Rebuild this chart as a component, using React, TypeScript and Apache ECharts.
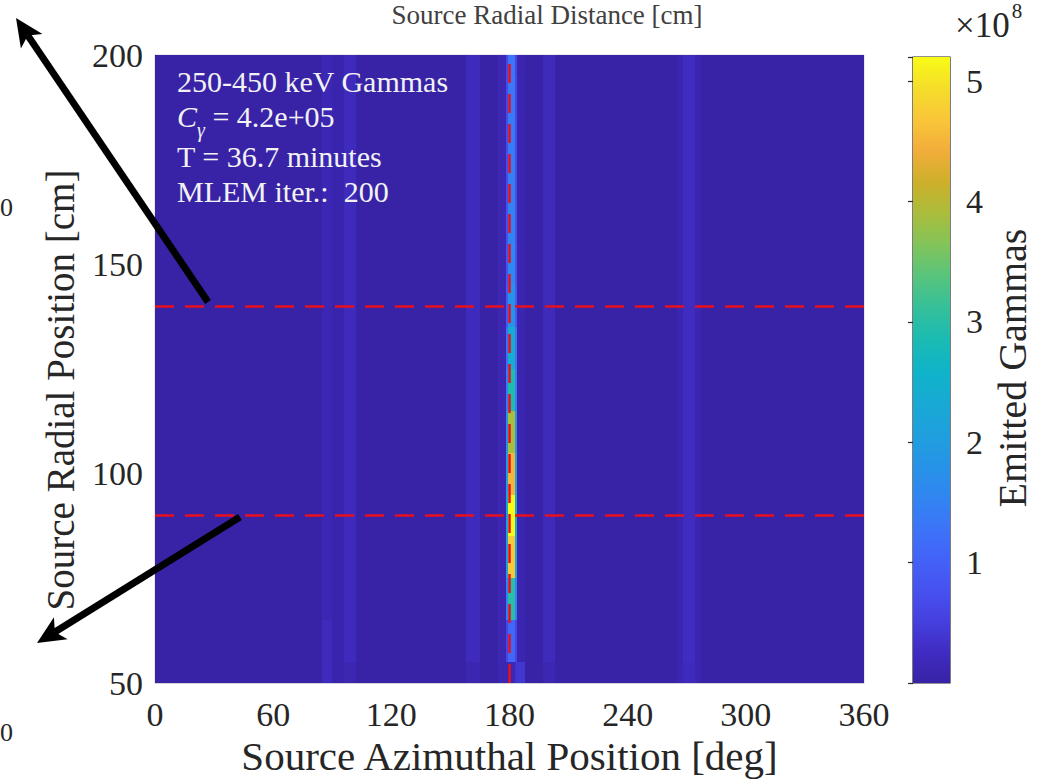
import React, { useEffect, useRef } from 'react';
import * as echarts from 'echarts';

// ---------- data ----------
const radialCenters = [50, 60, 70, 80, 90, 100, 110, 120, 130, 140, 150, 160, 170, 180, 190, 200];
const radialBinWidth = 10;
const azimuthRange = [0, 360];
const radialRange = [50, 200];
const backgroundLevel = 0.02; // ×1e8

// Emitted gammas (×1e8) per radial row (50 cm ... 200 cm) for azimuth ranges [deg]
const stripe85 = [0.22, 0.2, 0.14, 0.14, 0.14, 0.14, 0.14, 0.14, 0.14, 0.14, 0.14, 0.14, 0.14, 0.14, 0.14, 0.14];
const stripe90 = [0.07, 0.07, 0.07, 0.07, 0.07, 0.07, 0.07, 0.07, 0.07, 0.07, 0.07, 0.07, 0.07, 0.07, 0.07, 0.07];
const stripe96 = [0.12, 0.22, 0.22, 0.22, 0.22, 0.22, 0.22, 0.22, 0.22, 0.22, 0.22, 0.22, 0.22, 0.22, 0.22, 0.22];
const stripe158 = [0.1, 0.2, 0.2, 0.2, 0.2, 0.2, 0.2, 0.2, 0.2, 0.2, 0.2, 0.2, 0.2, 0.2, 0.2, 0.2];
const stripe174 = [0.1, 0.12, 0.12, 0.12, 0.12, 0.12, 0.12, 0.12, 0.12, 0.12, 0.12, 0.12, 0.12, 0.12, 0.12, 0.12];
const peakHaloLeft = [0.1, 0.6, 1.5, 2.1, 2.3, 2.1, 1.8, 1.4, 1.2, 0.9, 0.8, 0.75, 0.7, 0.7, 0.65, 0.6];
const peakCore = [0.15, 1.1, 3.0, 4.7, 5.2, 4.5, 3.9, 2.9, 2.4, 1.8, 1.6, 1.5, 1.45, 1.4, 1.35, 1.3];
const peakHaloRight = [0.35, 0.6, 1.5, 2.1, 2.3, 2.1, 1.8, 1.4, 1.2, 0.9, 0.8, 0.75, 0.7, 0.7, 0.65, 0.6];
const stripe184 = [0.4, 0.1, 0.1, 0.1, 0.1, 0.1, 0.1, 0.1, 0.1, 0.1, 0.1, 0.1, 0.1, 0.1, 0.1, 0.1];
const stripe197 = [0.12, 0.2, 0.2, 0.2, 0.2, 0.2, 0.2, 0.2, 0.2, 0.2, 0.2, 0.2, 0.2, 0.2, 0.2, 0.2];
const stripe265 = [0.1, 0.1, 0.1, 0.1, 0.1, 0.1, 0.1, 0.1, 0.1, 0.1, 0.1, 0.1, 0.1, 0.1, 0.1, 0.1];
const stripe268 = [0.22, 0.25, 0.25, 0.25, 0.25, 0.25, 0.25, 0.25, 0.25, 0.25, 0.25, 0.25, 0.25, 0.25, 0.25, 0.25];
const stripe274 = [0.1, 0.1, 0.1, 0.1, 0.1, 0.1, 0.1, 0.1, 0.1, 0.1, 0.1, 0.1, 0.1, 0.1, 0.1, 0.1];

const features: { az: [number, number]; values: number[] }[] = [
  { az: [85, 90], values: stripe85 },
  { az: [90, 96], values: stripe90 },
  { az: [96, 102], values: stripe96 },
  { az: [158, 165], values: stripe158 },
  { az: [174, 178], values: stripe174 },
  { az: [178, 179], values: peakHaloLeft },
  { az: [179, 183], values: peakCore },
  { az: [183, 184], values: peakHaloRight },
  { az: [184, 188], values: stripe184 },
  { az: [197, 203], values: stripe197 },
  { az: [265, 268], values: stripe265 },
  { az: [268, 274], values: stripe268 },
  { az: [274, 277], values: stripe274 },
];

const azimuthTicks = [0, 60, 120, 180, 240, 300, 360];
const radialTicks = [50, 100, 150, 200];
const colorbarTicks = [1, 2, 3, 4, 5];
const colorMin = 0;
const colorMax = 5.2;
const lineRadial = [140, 90];
const lineAzimuth = [180];

const parula = [
  '#3722a5', '#402cc2', '#4540df', '#4652f0', '#4363f8', '#3c75f8', '#3086f0',
  '#2694e6', '#1fa0dd', '#17aad3', '#0fb4c8', '#1bbbb2', '#35c09a', '#58c47c',
  '#82c45a', '#aabd3c', '#cdaf2a', '#f2ad3a', '#f9c639', '#f5dd2a', '#f9fb15',
];

// build piecewise-constant image cells [az0, az1, r0, r1, value]
function buildCells() {
  const runs: { az: [number, number]; values: number[] | null }[] = [];
  let cursor = azimuthRange[0];
  for (const f of features) {
    if (f.az[0] > cursor) runs.push({ az: [cursor, f.az[0]], values: null });
    runs.push(f);
    cursor = f.az[1];
  }
  if (cursor < azimuthRange[1]) runs.push({ az: [cursor, azimuthRange[1]], values: null });
  const cells: number[][] = [];
  radialCenters.forEach((rc, ri) => {
    const r0 = Math.max(radialRange[0], rc - radialBinWidth / 2);
    const r1 = Math.min(radialRange[1], rc + radialBinWidth / 2);
    for (const run of runs) {
      const v = run.values ? run.values[ri] : backgroundLevel;
      cells.push([run.az[0], run.az[1], r0, r1, v]);
    }
  });
  return cells;
}

const FONT = 'Liberation Serif';
const TXT = '#262626';
const ANN = '#f2f2f2';

function arrow(tail: number[], tip: number[]) {
  const dx = tip[0] - tail[0];
  const dy = tip[1] - tail[1];
  const L = Math.hypot(dx, dy);
  const ux = dx / L, uy = dy / L;
  const px = -uy, py = ux;
  const headLen = 28, halfW = 13, notch = 7;
  const bx = tip[0] - ux * headLen, by = tip[1] - uy * headLen;
  const nx = tip[0] - ux * (headLen - notch), ny = tip[1] - uy * (headLen - notch);
  return [
    { type: 'line', shape: { x1: tail[0], y1: tail[1], x2: nx, y2: ny }, style: { stroke: '#000', lineWidth: 7 }, z: 100 },
    {
      type: 'polygon',
      shape: { points: [tip, [bx + px * halfW, by + py * halfW], [nx, ny], [bx - px * halfW, by - py * halfW]] },
      style: { fill: '#000' },
      z: 100,
    },
  ];
}

function txt(x: number, y: number, text: string, size: number, extra: any = {}) {
  return {
    type: 'text', x, y, z: 50,
    style: { text, fontFamily: FONT, fontSize: size, fill: TXT, ...extra },
  };
}

export default function App() {
  const ref = useRef<HTMLDivElement>(null);
  useEffect(() => {
    if (!ref.current) return;
    const chart = echarts.init(ref.current, undefined, { renderer: 'svg' });
    const cells = buildCells();
    const gradStops = parula.map((c, i) => ({ offset: i / (parula.length - 1), color: c }));
    const option: any = {
      animation: false,
      backgroundColor: '#ffffff',
      textStyle: { fontFamily: FONT },
      grid: [
        { left: 155, top: 55, width: 709, height: 628, show: true, borderColor: '#d4d4d4', borderWidth: 1, backgroundColor: 'transparent' },
        { left: 913, top: 57, width: 37, height: 626, show: true, borderColor: '#262626', borderWidth: 1.2, backgroundColor: 'transparent' },
      ],
      xAxis: [
        {
          gridIndex: 0, type: 'value', min: azimuthTicks[0], max: azimuthTicks[azimuthTicks.length - 1], interval: 60,
          name: 'Source Azimuthal Position [deg]', nameLocation: 'middle', nameGap: 47,
          nameTextStyle: { fontFamily: FONT, fontSize: 41, color: TXT },
          axisLine: { show: true, lineStyle: { color: '#d4d4d4', width: 1 } },
          axisTick: { show: false }, splitLine: { show: false },
          axisLabel: { fontFamily: FONT, fontSize: 34, color: TXT, margin: 14 },
        },
        { gridIndex: 1, type: 'value', min: 0, max: 1, show: false },
      ],
      yAxis: [
        {
          gridIndex: 0, type: 'value', min: radialTicks[0], max: radialTicks[radialTicks.length - 1], interval: 50,
          axisLine: { show: true, lineStyle: { color: '#d4d4d4', width: 1 } },
          axisTick: { show: false }, splitLine: { show: false },
          axisLabel: { fontFamily: FONT, fontSize: 34, color: TXT, margin: 12 },
        },
        {
          gridIndex: 1, type: 'value', min: colorMin, max: colorMax, interval: 1, position: 'right',
          axisLine: { show: false }, splitLine: { show: false },
          axisTick: { show: true, inside: true, length: 5, lineStyle: { color: '#262626', width: 1.2 } },
          axisLabel: {
            fontFamily: FONT, fontSize: 34, color: TXT, margin: 16,
            formatter: (v: number) => (colorbarTicks.indexOf(v) >= 0 ? String(v) : ''),
          },
        },
      ],
      visualMap: {
        type: 'continuous', show: false, min: colorMin, max: colorMax, dimension: 4, seriesIndex: 0,
        inRange: { color: parula },
      },
      series: [
        {
          type: 'custom', xAxisIndex: 0, yAxisIndex: 0, clip: true,
          encode: { x: [0, 1], y: [2, 3] },
          data: cells,
          renderItem: (params: any, api: any) => {
            const p0 = api.coord([api.value(0), api.value(3)]);
            const p1 = api.coord([api.value(1), api.value(2)]);
            const x0 = Math.round(p0[0]), y0 = Math.round(p0[1]);
            const x1 = Math.round(p1[0]), y1 = Math.round(p1[1]);
            const color = api.visual('color');
            return {
              type: 'rect',
              shape: { x: x0, y: y0, width: x1 - x0, height: y1 - y0 },
              style: { fill: color },
            };
          },
          silent: true,
        },
        {
          type: 'line', xAxisIndex: 0, yAxisIndex: 0, data: [], silent: true,
          markLine: {
            symbol: 'none', silent: true, animation: false,
            label: { show: false },
            lineStyle: { color: '#e8101c', width: 2.5, type: [19, 11] },
            data: [
              ...lineRadial.map((v) => ({ yAxis: v })),
              ...lineAzimuth.map((v) => ({ xAxis: v })),
            ],
          },
          z: 5,
        },
        {
          type: 'custom', xAxisIndex: 1, yAxisIndex: 1, data: [[0, colorMax]], silent: true,
          renderItem: (params: any, api: any) => {
            const p0 = api.coord([0, colorMax]);
            const p1 = api.coord([1, colorMin]);
            return {
              type: 'rect',
              shape: { x: p0[0], y: p0[1], width: p1[0] - p0[0], height: p1[1] - p0[1] },
              style: { fill: new echarts.graphic.LinearGradient(0, 1, 0, 0, gradStops) },
            };
          },
          z: 1,
        },
      ],
      graphic: [
        txt(177, 66, '250-450 keV Gammas', 30, { fill: ANN }),
        {
          type: 'text', x: 177, y: 92, z: 50,
          style: {
            text: '{c|C}{g|γ}{n| = 4.2e+05}',
            fontFamily: FONT, fontSize: 30, fill: ANN,
            rich: {
              c: { fontFamily: FONT, fontSize: 30, fontStyle: 'italic', fill: ANN, lineHeight: 48 },
              g: { fontFamily: FONT, fontSize: 20, fontStyle: 'italic', fill: ANN, lineHeight: 20, verticalAlign: 'bottom' },
              n: { fontFamily: FONT, fontSize: 30, fill: ANN, lineHeight: 48 },
            },
          },
        },
        txt(177, 141, 'T = 36.7 minutes', 30, { fill: ANN }),
        txt(177, 176, 'MLEM iter.:  200', 30, { fill: ANN }),
        {
          type: 'text', x: 955, y: 0, z: 50,
          style: {
            text: '{b|×10}{s|8}',
            fontFamily: FONT, fontSize: 35, fill: TXT,
            rich: {
              b: { fontFamily: FONT, fontSize: 35, fill: TXT, lineHeight: 50 },
              s: { fontFamily: FONT, fontSize: 21, fill: TXT, lineHeight: 17, verticalAlign: 'top', padding: [0, 0, 0, 2] },
            },
          },
        },
        {
          type: 'text', x: 1012, y: 368, rotation: Math.PI / 2, z: 50,
          style: { text: 'Emitted Gammas', fontFamily: FONT, fontSize: 40, fill: TXT, align: 'center', verticalAlign: 'middle' },
        },
        {
          type: 'text', x: 60, y: 390, rotation: Math.PI / 2, z: 50,
          style: { text: 'Source Radial Position [cm]', fontFamily: FONT, fontSize: 39, fill: TXT, align: 'center', verticalAlign: 'middle' },
        },
        txt(547, 15, 'Source Radial Distance [cm]', 27, { fill: '#404040', align: 'center', verticalAlign: 'middle' }),
        txt(0, 207, '0', 26, { verticalAlign: 'middle' }),
        txt(0, 732, '0', 26, { verticalAlign: 'middle' }),
        ...arrow([208, 302], [16, 18]),
        ...arrow([240, 517], [37, 643]),
      ],
    };
    chart.setOption(option);
    return () => chart.dispose();
  }, []);
  return <div ref={ref} style={{ position: 'absolute', left: 0, top: 0, width: 1045, height: 782 }} />;
}
